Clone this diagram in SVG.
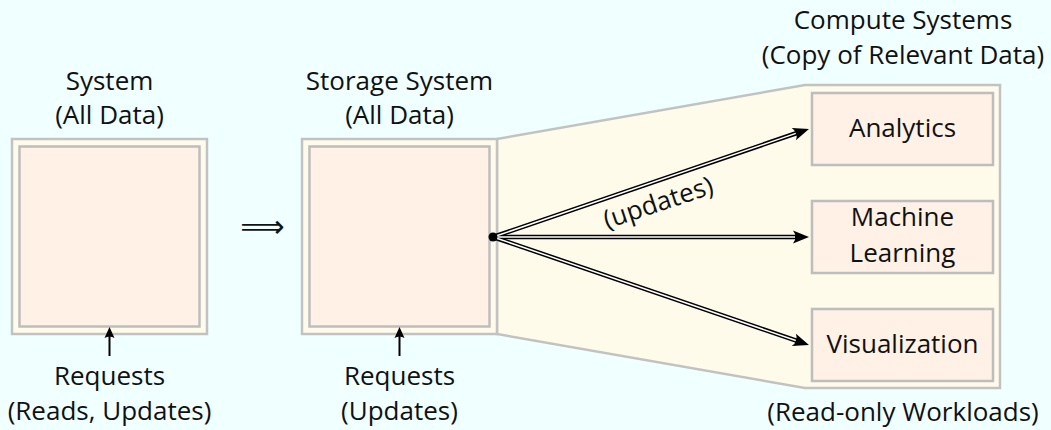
<svg xmlns="http://www.w3.org/2000/svg" width="1051" height="430" viewBox="0 0 1051 430">
<style>
text{font-family:"Open Sans","Liberation Sans",sans-serif;font-size:26px;fill:#111;text-anchor:middle}
.outer{fill:#fffbea;stroke:#c2c2c2;stroke-width:2.5}
.inner{fill:#fff1e6;stroke:#bdbdbd;stroke-width:2.5}
.blk{stroke:#000;stroke-width:4.5;fill:none}
.wht{stroke:#fff;stroke-width:1.5;fill:none}
.req{stroke:#000;stroke-width:2;fill:none}
</style>
<defs>
<marker id="head" markerUnits="userSpaceOnUse" orient="auto" overflow="visible" markerWidth="1" markerHeight="1" refX="0" refY="0">
<path d="M8,0 L-8,-6.5 Q-3,0 -8,6.5 Z" fill="#000" stroke="none"/>
</marker>
<marker id="small" markerUnits="userSpaceOnUse" orient="auto" overflow="visible" markerWidth="1" markerHeight="1" refX="0" refY="0">
<path d="M7,0 L-4,-5 Q-1,0 -4,5 Z" fill="#000" stroke="none"/>
</marker>
</defs>
<rect width="1051" height="430" fill="#f0ffff"/>

<g id="compute-systems">
<polygon class="outer" points="497,139 805,85 1000,85 1000,388 805,388 497,334"/>
<text x="903" y="29">Compute Systems</text>
<text x="903" y="64">(Copy of Relevant Data)</text>
<text x="903" y="421">(Read-only Workloads)</text>
</g>

<g id="system">
<rect class="outer" x="12" y="139" width="195" height="195"/>
<rect class="inner" x="19.5" y="146.5" width="180" height="180"/>
<text x="109.5" y="90">System</text>
<text x="109.5" y="124">(All Data)</text>
<text x="109.5" y="385">Requests</text>
<text x="109.5" y="420">(Reads, Updates)</text>
</g>

<g id="implies">
<text x="262.5" y="237" style="font-family:'DejaVu Sans',sans-serif;font-size:31px">⟹</text>
</g>

<g id="storage">
<rect class="outer" x="302" y="139" width="195" height="195"/>
<rect class="inner" x="309.5" y="146.5" width="180" height="180"/>
<text x="399.5" y="90">Storage System</text>
<text x="399.5" y="124">(All Data)</text>
<text x="399.5" y="385">Requests</text>
<text x="399.5" y="420">(Updates)</text>
</g>

<g id="analytics">
<rect class="inner" x="812" y="93" width="181" height="72"/>
<text x="902.5" y="137">Analytics</text>
</g>
<g id="ml">
<rect class="inner" x="812" y="201" width="181" height="72"/>
<text x="902.5" y="226">Machine</text>
<text x="902.5" y="262">Learning</text>
</g>
<g id="visualization">
<rect class="inner" x="812" y="309" width="181" height="72"/>
<text x="902.5" y="353">Visualization</text>
</g>

<g id="connectors">
<line class="req" x1="109.5" y1="356" x2="109.5" y2="334" marker-end="url(#small)"/>
<line class="req" x1="399.5" y1="356" x2="399.5" y2="334" marker-end="url(#small)"/>
<path class="blk" d="M493,237 L801.4,131.5" marker-end="url(#head)"/>
<path class="blk" d="M493,237 L801,237" marker-end="url(#head)"/>
<path class="blk" d="M493,237 L801.4,342.4" marker-end="url(#head)"/>
<path class="wht" d="M493,237 L795.8,133.4"/>
<path class="wht" d="M493,237 L795,237"/>
<path class="wht" d="M493,237 L795.8,340.5"/>
<circle cx="493" cy="237" r="4.5" fill="#000"/>
<text x="661" y="211" transform="rotate(-18.5 661 211)">(updates)</text>
</g>
</svg>
